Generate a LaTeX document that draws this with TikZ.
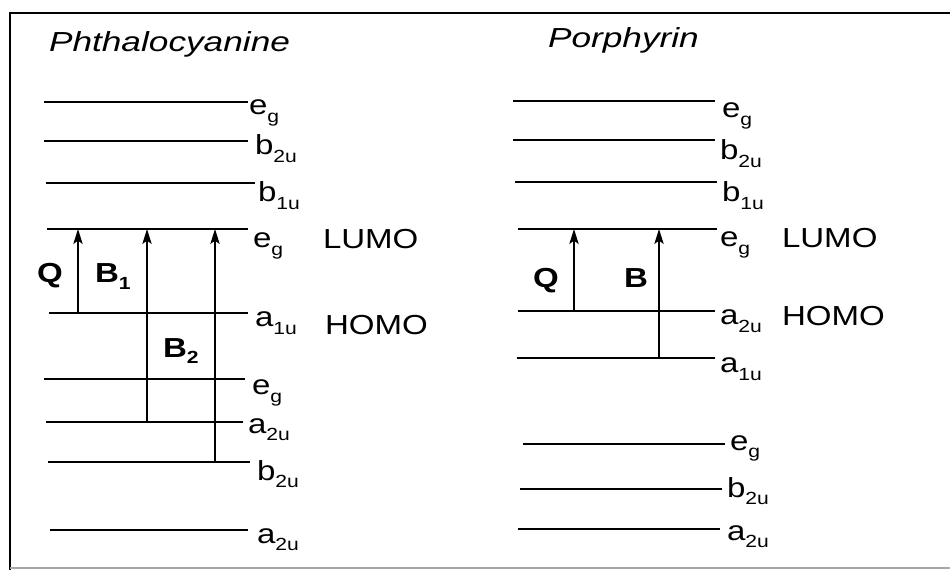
\documentclass[tikz,border=0pt]{standalone}
\usepackage{fontspec}
\usepackage{graphicx}
\setmainfont{Liberation Sans}
\usetikzlibrary{arrows.meta}
\newcommand{\mainf}{\fontsize{23.5}{27}\selectfont}
\newcommand{\subf}{\fontsize{15}{16}\selectfont}
\newcommand{\hstr}[1]{\scalebox{1.2}[1]{#1}}
\newcommand{\tstr}[1]{\scalebox{1.28}[1]{#1}}
\newcommand{\sbs}[2]{\hstr{#1\lower0.22cm\hbox{\subf #2}}}
\tikzset{
  lvl/.style={line width=1.5pt},
  lbl/.style={anchor=base west, inner sep=0pt, outer sep=0pt, font=\mainf},
  ttl/.style={anchor=base west, inner sep=0pt, outer sep=0pt, font=\mainf\itshape},
  trn/.style={line width=1.3pt, arrows={-Stealth[length=0.45cm,width=0.28cm,inset=0.1cm]}},
  frm/.style={line width=1.7pt}
}
\begin{document}
\begin{tikzpicture}[x=0.03cm,y=-0.03cm]
\useasboundingbox (0,0) rectangle (950,570);
% frame
\coordinate (fTL) at (10,13);
\coordinate (fTR) at (952,13);
\coordinate (fBL) at (10,572);
\coordinate (fbL) at (10,568);
\coordinate (fbR) at (952,568);
\draw[frm] (fTR) -- (fTL) -- (fBL);
\draw[line width=1pt, black!35] (fbL) -- (fbR);
% titles
\node[ttl] (tP) at (49,52) {\tstr{Phthalocyanine}};
\node[ttl] (tR) at (548,48) {\tstr{Porphyrin}};
% ---------- Phthalocyanine levels ----------
\foreach \n/\xs/\xe/\y in {p1/44/248/102, p2/44/248/141, p3/46/255/183, p4/47/248/229,
  p5/49/248/313, p6/44/245/379, p7/46/243/422, p8/48/250/462, p9/50/248/530}{
  \coordinate (\n L) at (\xs,\y);
  \coordinate (\n R) at (\xe,\y);
  \draw[lvl] (\n L) -- (\n R);
}
\node[lbl] (lp1) at (249,115) {\sbs{e}{g}};
\node[lbl] (lp2) at (255,155) {\sbs{b}{2u}};
\node[lbl] (lp3) at (258,202) {\sbs{b}{1u}};
\node[lbl] (lp4) at (253,248) {\sbs{e}{g}};
\node[lbl] (lp5) at (255,327) {\sbs{a}{1u}};
\node[lbl] (lp6) at (252,395) {\sbs{e}{g}};
\node[lbl] (lp7) at (248,433) {\sbs{a}{2u}};
\node[lbl] (lp8) at (257,480) {\sbs{b}{2u}};
\node[lbl] (lp9) at (257,543) {\sbs{a}{2u}};
\node[lbl] (pLUMO) at (323,249) {\hstr{LUMO}};
\node[lbl] (pHOMO) at (325,335) {\hstr{HOMO}};
% transitions
\coordinate (pQb) at (78,313);  \coordinate (pQt) at (78,229);
\coordinate (pB1b) at (147,422); \coordinate (pB1t) at (147,229);
\coordinate (pB2b) at (215,462); \coordinate (pB2t) at (215,229);
\draw[trn] (pQb) -- (pQt);
\draw[trn] (pB1b) -- (pB1t);
\draw[trn] (pB2b) -- (pB2t);
\node[lbl, font=\mainf\bfseries] (pQ) at (37,283) {\hstr{Q}};
\node[lbl, font=\mainf\bfseries] (pB1) at (95,283) {\hstr{B\lower0.21cm\hbox{\subf\bfseries 1}}};
\node[lbl, font=\mainf\bfseries] (pB2) at (163,358) {\hstr{B\lower0.18cm\hbox{\subf\bfseries 2}}};
% ---------- Porphyrin levels ----------
\foreach \n/\xs/\xe/\y in {r1/513/715/101, r2/513/715/140, r3/515/717/182, r4/518/717/229,
  r5/518/715/311, r6/517/715/358, r7/523/725/444, r8/520/722/489, r9/518/720/529}{
  \coordinate (\n L) at (\xs,\y);
  \coordinate (\n R) at (\xe,\y);
  \draw[lvl] (\n L) -- (\n R);
}
\node[lbl] (lr1) at (722,118) {\sbs{e}{g}};
\node[lbl] (lr2) at (720,160) {\sbs{b}{2u}};
\node[lbl] (lr3) at (722,202) {\sbs{b}{1u}};
\node[lbl] (lr4) at (720,247) {\sbs{e}{g}};
\node[lbl] (lr5) at (720,325) {\sbs{a}{2u}};
\node[lbl] (lr6) at (720,373) {\sbs{a}{1u}};
\node[lbl] (lr7) at (730,450) {\sbs{e}{g}};
\node[lbl] (lr8) at (727,497) {\sbs{b}{2u}};
\node[lbl] (lr9) at (727,540) {\sbs{a}{2u}};
\node[lbl] (rLUMO) at (782,248) {\hstr{LUMO}};
\node[lbl] (rHOMO) at (782,326) {\hstr{HOMO}};
\coordinate (rQb) at (574,311); \coordinate (rQt) at (574,229);
\coordinate (rBb) at (659,358); \coordinate (rBt) at (659,229);
\draw[trn] (rQb) -- (rQt);
\draw[trn] (rBb) -- (rBt);
\node[lbl, font=\mainf\bfseries] (rQ) at (533,288) {\hstr{Q}};
\node[lbl, font=\mainf\bfseries] (rB) at (624,288) {\hstr{B}};
\end{tikzpicture}
\end{document}
